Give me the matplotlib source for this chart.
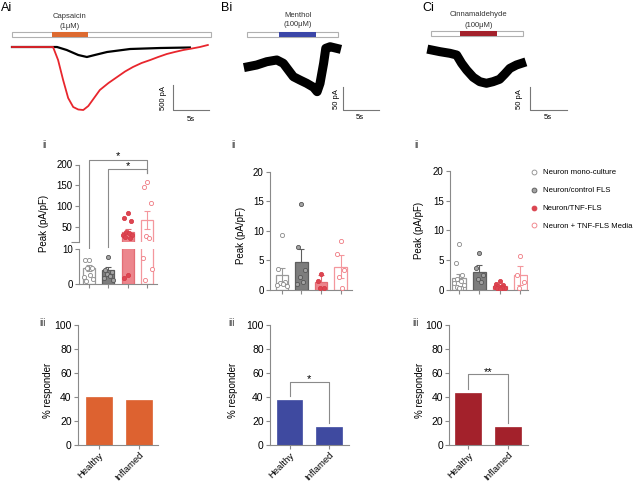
import numpy as np
import matplotlib.pyplot as plt
from matplotlib.lines import Line2D
from matplotlib.patches import Rectangle

plt.rcParams['font.family'] = ['Liberation Sans', 'DejaVu Sans']

W, H = 633, 482

# ---- example traces (time in s, current in pA) ----
caps_red_t = [0, 3.0, 5.7, 6.4, 7.1, 7.8, 8.5, 9.2, 9.9, 10.6, 11.4, 12.2, 13.4, 14.6, 15.7, 16.8, 18.0, 19.2, 20.3, 21.5, 22.6, 23.8, 25.0, 26.1, 27.2]
caps_red_pA = [0, 0, 0, -260, -660, -1020, -1200, -1250, -1260, -1180, -1020, -860, -720, -600, -490, -400, -320, -260, -200, -140, -100, -60, -30, 0, 40]
caps_blk_t = [0, 3.0, 6.25, 7.6, 9.2, 10.4, 11.5, 13.2, 16.4, 20.6, 24.7]
caps_blk_pA = [0, 0, 0, -60, -160, -200, -160, -100, -40, -20, -10]
ment_t = [0.14, 1.3, 2.7, 4.1, 5.0, 5.7, 6.4, 7.3, 8.25, 9.2, 9.7, 10.1, 10.6, 10.9, 11.5, 12.4]
ment_pA = [0, 3.7, 11, 14.8, 7.5, -7.3, -22, -29.3, -36.6, -45.4, -55, -36.6, 7.5, 40.5, 44, 40.5]
cinn_t = [0.14, 1.27, 2.63, 3.54, 4.22, 4.9, 5.8, 6.7, 7.6, 8.5, 9.4, 10.1, 10.8, 11.7, 12.4]
cinn_pA = [0, -3.7, -7.3, -11, -29.3, -44, -60.1, -69.8, -73.3, -69.8, -64.5, -52.9, -40.5, -33, -29.3]

# ---- peak current (pA/pF): mean, sem, single cells ----
groups = ['Neuron mono-culture', 'Neuron/control FLS', 'Neuron/TNF-FLS', 'Neuron + TNF-FLS Media']
caps_mean = [4.5, 3.9, 39, 67]
caps_sem = [0.9, 0.8, 7, 22]
caps_pts = [[6.9, 7.0, 4.4, 4.5, 2.6, 2.0, 1.2, 0.6],
            [7.8, 3.9, 3.4, 2.8, 2.2, 1.6, 1.0],
            [83, 72, 65, 38, 35, 32, 30, 27, 24, 2.5, 1.5],
            [158, 146, 108, 28, 24, 7.6, 4.2, 1.0]]
ment_mean = [2.45, 4.75, 1.2, 3.9]
ment_sem = [1.15, 2.2, 1.3, 2.0]
ment_pts = [[9.3, 3.5, 1.3, 1.1, 1.0, 0.8, 0.6],
            [14.5, 7.3, 3.3, 2.2, 1.2, 1.0],
            [2.6, 1.4, 0.2, 0.2],
            [8.3, 6.0, 3.4, 2.1, 0.2]]
cinn_mean = [2.0, 3.0, 0.6, 2.4]
cinn_sem = [0.6, 1.1, 0.15, 1.6]
cinn_pts = [[7.6, 4.5, 2.4, 1.8, 1.4, 1.1, 0.8, 0.5, 0.3, 0.2],
            [6.2, 3.6, 2.5, 1.8, 1.3],
            [1.4, 1.0, 0.8, 0.6, 0.5, 0.4, 0.3, 0.2, 0.2, 0.1],
            [5.6, 2.4, 1.2, 0.2]]

# ---- % responders ----
resp_labels = ['Healthy', 'Inflamed']
caps_resp = [40.3, 37.2]
ment_resp = [37.5, 14.7]
cinn_resp = [43.6, 15.3]

bar_face = ['none', '#7d7d7d', '#ec868d', 'none']
bar_edge = ['#9a9a9a', '#5e5e5e', '#e36d75', '#f4979d']
pt_face = ['white', '#a3a3a3', '#dc4652', 'white']
pt_edge = ['#8a8a8a', '#555555', '#d83c48', '#ef7a82']
jit = [0, -0.17, 0.17, -0.08, 0.08, -0.24, 0.24, -0.12, 0.12, 0.0, -0.2]
axc = '#8a8a8a'

fig = plt.figure(figsize=(W / 100, H / 100), dpi=100)


def add_ax(l, t, r, b):
    return fig.add_axes([l / W, 1 - b / H, (r - l) / W, (b - t) / H])


def ftext(x, y, s, **kw):
    fig.text(x / W, 1 - y / H, s, **kw)


def trace_axes(box, x0, y0, pxs, pxa):
    l, t, r, b = box
    ax = add_ax(l, t, r, b)
    ax.set_xlim((l - x0) / pxs, (r - x0) / pxs)
    ax.set_ylim((y0 - b) / pxa, (y0 - t) / pxa)
    ax.axis('off')
    return ax


def trace_decor(ax, sweep, bar_y, on, off, col, name, name_y, scl_t, scl_y, scl_pA, txt):
    ax.add_patch(Rectangle((0, bar_y[0]), sweep, bar_y[1] - bar_y[0], facecolor='white',
                           edgecolor='#b0b0b0', lw=0.8, zorder=3))
    ax.add_patch(Rectangle((on, bar_y[0]), off - on, bar_y[1] - bar_y[0], facecolor=col,
                           edgecolor='none', zorder=4))
    ax.text((on + off) / 2, name_y[0], name[0], ha='center', va='center', fontsize=5.5, color='#333333')
    ax.text((on + off) / 2, name_y[1], name[1], ha='center', va='center', fontsize=5.5, color='#333333')
    ax.plot([scl_t, scl_t, scl_t + 5], [scl_y + scl_pA, scl_y, scl_y], color='#777777', lw=0.8)
    ax.text(txt[0], scl_y + scl_pA / 2, f'{scl_pA} pA', rotation=90, ha='center', va='center', fontsize=5.5)
    ax.text(txt[1], txt[2], '5s', ha='center', va='center', fontsize=5.5)


# ---- row i: traces ----
axA = trace_axes((5, 0, 215, 130), 12, 47, 7.2, 0.05)
axA.plot(caps_blk_t, caps_blk_pA, color='black', lw=1.6)
axA.plot(caps_red_t, caps_red_pA, color='#e8262d', lw=1.3)
trace_decor(axA, 27.6, (206, 306), 5.5, 10.6, '#dd6a30', ('Capsaicin', '(1μM)'), (600, 420),
            22.3, -1260, 500, (21.0, 24.8, -1446))

axB = trace_axes((240, 0, 400, 130), 247.3, 66.7, 7.2, 0.454)
axB.plot(ment_t, ment_pA, color='black', lw=6.5, solid_joinstyle='round')
trace_decor(axB, 12.6, (66, 75.8), 4.4, 9.6, '#3b46a8', ('Menthol', '(100μM)'), (111.7, 91.9),
            13.3, -95.4, 50, (12.4, 15.65, -111.5))

axC = trace_axes((425, 0, 600, 130), 430.7, 50, 7.33, 0.454)
axC.plot(cinn_t, cinn_pA, color='black', lw=6.5, solid_joinstyle='round')
trace_decor(axC, 12.55, (31.5, 41.9), 4.0, 9.1, '#a3212b', ('Cinnamaldehyde', '(100μM)'), (77.1, 55),
            13.6, -132.2, 50, (12.1, 16.04, -148))

ftext(1, 8, 'Ai', fontsize=9, va='center')
ftext(221, 8, 'Bi', fontsize=9, va='center')
ftext(422, 8, 'Ci', fontsize=9, va='center')


def style(ax, bottom=True):
    for s in ['top', 'right']:
        ax.spines[s].set_visible(False)
    ax.spines['left'].set_color(axc)
    ax.spines['left'].set_linewidth(0.8)
    ax.spines['bottom'].set_color(axc)
    ax.spines['bottom'].set_linewidth(0.8)
    ax.tick_params(axis='both', length=3, width=0.8, color=axc, labelsize=7, pad=1.5)
    if not bottom:
        ax.spines['bottom'].set_visible(False)
        ax.tick_params(axis='x', bottom=False, labelbottom=False)


def peak_bars(ax, means, sems, pts):
    for i in range(4):
        filled = bar_face[i] != 'none'
        ax.bar(i, means[i], width=0.64, color=bar_face[i], edgecolor=bar_edge[i], lw=0.9,
               zorder=3 if filled else 1)
        ax.errorbar(i, means[i], yerr=sems[i], fmt='none', ecolor=bar_edge[i], elinewidth=0.8,
                    capsize=2.5, capthick=0.8, zorder=2)
        p = np.array(pts[i])
        off = np.array(jit[:len(p)])
        ax.scatter(i + off, p, s=9, facecolor=pt_face[i], edgecolor=pt_edge[i], lw=0.6, zorder=4)
    ax.set_xticks(range(4))
    ax.set_xticklabels([])


# ---- row ii: peak current ----
axA_up = add_ax(79, 164.5, 157, 241.7)
axA_lo = add_ax(79, 249.3, 157, 283.5)
for ax in (axA_up, axA_lo):
    peak_bars(ax, caps_mean, caps_sem, caps_pts)
    ax.set_xlim(-0.5, 3.5)
axA_up.set_ylim(15, 200)
axA_up.set_yticks([15, 50, 100, 150, 200], ['', '50', '100', '150', '200'])
axA_lo.set_ylim(0, 10)
axA_lo.set_yticks([0, 10])
style(axA_up, bottom=False)
style(axA_lo)
axA_up.yaxis.get_major_ticks()[0].tick1line.set_markersize(6)
# significance brackets
axA_up.plot([0, 0, 3, 3], [-9, 211, 211, 179], color=axc, lw=0.8, clip_on=False)
axA_up.plot([1, 1, 3, 3], [3, 189, 189, 179], color=axc, lw=0.8, clip_on=False)
axA_up.text(1.5, 219, '*', ha='center', va='center', fontsize=8)
axA_up.text(2.0, 196, '*', ha='center', va='center', fontsize=8)

axB2 = add_ax(270, 172, 352, 289.5)
peak_bars(axB2, ment_mean, ment_sem, ment_pts)
axB2.set_xlim(-0.6, 3.57)
axB2.set_ylim(0, 20)
axB2.set_yticks([0, 5, 10, 15, 20])
style(axB2)

axC2 = add_ax(450, 171, 528, 289.5)
peak_bars(axC2, cinn_mean, cinn_sem, cinn_pts)
axC2.set_xlim(-0.44, 3.37)
axC2.set_ylim(0, 20)
axC2.set_yticks([0, 5, 10, 15, 20])
style(axC2)

handles = [Line2D([], [], ls='none', marker='o', ms=3.5, mfc=pt_face[i], mec=pt_edge[i], mew=0.6)
           for i in range(4)]
fig.legend(handles, groups, loc='upper left', bbox_to_anchor=(526.5 / W, 1 - 165 / H), frameon=False,
           fontsize=5.6, borderpad=0, handlelength=1.05, handletextpad=0.55, labelspacing=1.35)

for x in (42, 231, 414):
    ftext(x, 145, 'ii', fontsize=7, color='#444444', va='center')
ftext(44, 223, 'Peak (pA/pF)', rotation=90, fontsize=7, ha='center', va='center')
ftext(241, 235, 'Peak (pA/pF)', rotation=90, fontsize=7, ha='center', va='center')
ftext(419, 230, 'Peak (pA/pF)', rotation=90, fontsize=7, ha='center', va='center')

# ---- row iii: responders ----
panels = [((78, 158), (-0.525, 1.475), caps_resp, '#dd6230', None, 48, 39),
          ((270, 348.6), (-0.5, 1.5), ment_resp, '#3f4aa0', ('*', 41, 18, 52.7, 55), 233, 228),
          ((449.3, 528.3), (-0.475, 1.5), cinn_resp, '#a3212b', ('**', 47, 18, 58.9, 61), 420, 412)]
for (l, r), xl, vals, col, sig, ylx, tx in panels:
    ax = add_ax(l, 325.3, r, 445)
    ax.bar([0, 1], vals, width=0.65, color=col, edgecolor=col, lw=0.5)
    ax.set_xlim(*xl)
    ax.set_ylim(0, 100)
    ax.set_yticks([0, 20, 40, 60, 80, 100])
    style(ax)
    ax.tick_params(axis='y', labelsize=7.5)
    ax.set_xticks([0, 1])
    ax.set_xticklabels(resp_labels, rotation=45, ha='right', rotation_mode='anchor', fontsize=6.8)
    ax.tick_params(axis='x', pad=1)
    if sig:
        ax.plot([0, 0, 1, 1], [sig[1], sig[3], sig[3], sig[2]], color=axc, lw=0.8)
        ax.text(0.5, sig[4], sig[0], ha='center', va='center', fontsize=8)
    ftext(ylx, 390, '% responder', rotation=90, fontsize=7, ha='center', va='center')
    ftext(tx, 323, 'iii', fontsize=7, color='#444444', va='center')

fig.savefig('out.png', dpi=100)
